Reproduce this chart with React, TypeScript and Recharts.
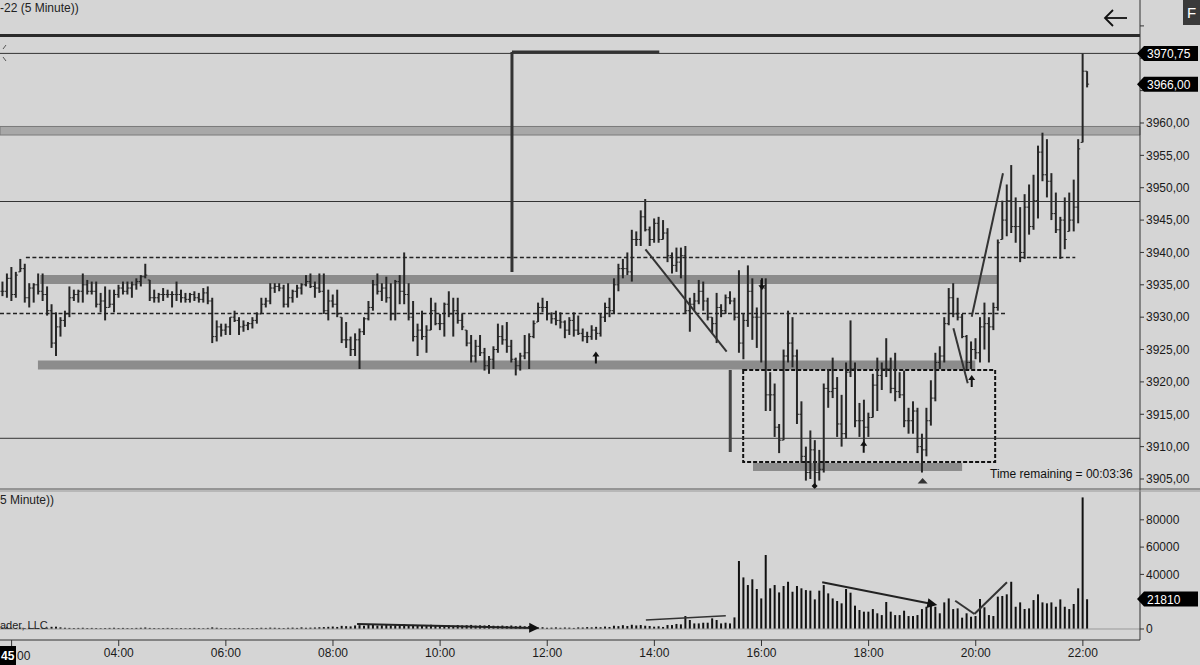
import React from 'react';
import {
    Bar,
    ComposedChart,
    ReferenceArea,
    ReferenceDot,
    ReferenceLine,
    XAxis,
    YAxis,
} from 'recharts';

// 5 minute bars, first bar 01:50, last bar 22:05
const highs = [
    3935.5, 3936.75, 3937.75, 3937, 3939, 3938.25, 3935.25, 3935.25, 3936.75, 3936.75,
    3934.75, 3932, 3930.75, 3930, 3931, 3934.75, 3934.25, 3934.25, 3936.75, 3935.75,
    3935.5, 3935.5, 3933.75, 3934.75, 3934.25, 3934.25, 3935, 3935.5, 3935.5, 3935.5,
    3936, 3936.5, 3938.25, 3935.75, 3934.25, 3933.75, 3934.5, 3934.25, 3934, 3935.5,
    3934.25, 3933.75, 3933.75, 3934, 3933.75, 3934.5, 3934.75, 3933, 3929.5, 3929,
    3929, 3930, 3931, 3930, 3929.5, 3929.25, 3930, 3930.75, 3933, 3933,
    3935.25, 3935.25, 3935.25, 3935, 3935.25, 3934.25, 3935, 3935.25, 3936.5, 3936.75,
    3935.5, 3936.75, 3936.75, 3934.25, 3933.5, 3934.25, 3930, 3929.25, 3927, 3927.5,
    3928.25, 3930, 3932.5, 3935.75, 3936.75, 3935.25, 3936.25, 3935.25, 3935.75, 3936.5,
    3940, 3935.25, 3932.5, 3929, 3931, 3928.75, 3933, 3932.25, 3930.5, 3932.25,
    3934, 3933, 3933, 3930.5, 3928, 3927.25, 3926.5, 3927.25, 3925.25, 3924,
    3925.5, 3929, 3928.75, 3929.25, 3926.5, 3923.75, 3924.5, 3927.25, 3927.5, 3929.5,
    3932.25, 3933, 3932.5, 3930.75, 3931, 3930.75, 3929.5, 3930, 3930.75, 3930.25,
    3928.25, 3927.75, 3928.75, 3928.5, 3930.5, 3932.25, 3933, 3936, 3938.25, 3939,
    3940, 3943.5, 3943.25, 3946.5, 3948.25, 3944, 3945.25, 3945.5, 3945, 3943.75,
    3940, 3940.75, 3940.75, 3941, 3933, 3933.75, 3935.75, 3935.5, 3933, 3930,
    3933.75, 3932, 3933.5, 3934, 3933, 3937.25, 3930.5, 3938, 3936, 3931.5,
    3935.75, 3936, 3921.5, 3919.75, 3913.5, 3925, 3931, 3930, 3925, 3917,
    3910, 3912.5, 3911, 3909.5, 3919.75, 3922, 3923.75, 3920.75, 3918, 3923,
    3929.5, 3923, 3916.75, 3917.25, 3915.25, 3921.25, 3923.75, 3923, 3926.75, 3923.75,
    3924.5, 3921.5, 3921.75, 3916, 3917, 3916, 3912, 3916, 3920.25, 3924.5,
    3925.5, 3930, 3934.5, 3935.25, 3933, 3930.5, 3927.25, 3926.25, 3926.75, 3930,
    3932.25, 3930, 3932.25, 3942, 3948, 3950.5, 3953.5, 3948.5, 3947, 3949,
    3950.5, 3952, 3956.5, 3958.5, 3957.5, 3952.25, 3949.25, 3945.5, 3948.5, 3949.25,
    3951.25, 3957.5, 3970.75, 3968,
];

const lows = [
    3933.25, 3933, 3932.5, 3933, 3937, 3932.25, 3931.5, 3932.25, 3933.5, 3932.5,
    3930.25, 3925.25, 3924, 3927, 3928.5, 3930, 3932.5, 3932.25, 3932.25, 3933.5,
    3933.5, 3931.5, 3930.75, 3929.5, 3931.5, 3930.75, 3933, 3933.5, 3933.5, 3933,
    3934.25, 3934.75, 3936, 3932.5, 3932.25, 3932.25, 3932.5, 3933, 3931.5, 3932.5,
    3932.25, 3932.25, 3932.25, 3932.5, 3932.25, 3932.25, 3932, 3926, 3926.25, 3927,
    3927.25, 3927.25, 3929.25, 3927.25, 3927.75, 3928, 3928.25, 3929, 3930.5, 3931.5,
    3932, 3933.75, 3934, 3931.5, 3931.5, 3932.25, 3933, 3933.5, 3934.75, 3934.5,
    3933, 3933.75, 3930.5, 3929.5, 3931.5, 3930, 3926, 3925.25, 3924, 3924,
    3922, 3927.25, 3929.5, 3931, 3933.5, 3932.5, 3932.25, 3929.5, 3929.5, 3932,
    3932, 3929.5, 3926.25, 3924, 3926.5, 3924.5, 3928, 3928.75, 3928, 3927,
    3930, 3927, 3929, 3928, 3925.5, 3923, 3923, 3924, 3921.75, 3921.25,
    3922, 3924.5, 3925.75, 3924.5, 3923, 3921, 3921.75, 3923.5, 3922, 3926.75,
    3929.25, 3930.75, 3929.5, 3929, 3928.75, 3928.25, 3926.75, 3927.25, 3927, 3927.25,
    3926.25, 3926, 3926.5, 3926.5, 3927, 3929.25, 3930, 3930.5, 3934, 3936,
    3936.5, 3935.5, 3941, 3941, 3943.25, 3941, 3941.5, 3941.5, 3942, 3938.5,
    3936.75, 3937, 3936, 3930.5, 3927.75, 3931, 3932, 3931, 3929.5, 3927.5,
    3926, 3930, 3930.5, 3932, 3929.5, 3924.5, 3923.5, 3928.5, 3926.5, 3925.25,
    3923, 3915.5, 3915.5, 3911.5, 3909, 3911, 3923, 3922.25, 3913.5, 3907.5,
    3904.75, 3905, 3903.75, 3904.75, 3906, 3916, 3917.5, 3911.5, 3910, 3911.25,
    3920.75, 3913, 3911.5, 3910, 3911.5, 3914.5, 3915.5, 3918.75, 3920.75, 3918.25,
    3917, 3917.5, 3913, 3912, 3912, 3909, 3906, 3908.5, 3913.25, 3917,
    3922, 3923, 3928.75, 3930, 3929.5, 3926.75, 3922, 3922, 3923.5, 3923,
    3925, 3923, 3928, 3931, 3942, 3942.5, 3943, 3941.5, 3938.5, 3939,
    3942.75, 3943.5, 3945.25, 3951, 3948.5, 3945, 3943, 3939, 3940.5, 3943.25,
    3943.25, 3944.5, 3957, 3965.5,
];

const closes = [
    3934, 3936, 3933.5, 3936.5, 3937.5, 3933, 3934.5, 3935, 3934, 3933.5,
    3931, 3926, 3928.5, 3929.5, 3930.5, 3933, 3933.5, 3934, 3935, 3934,
    3934, 3932, 3932.5, 3931.5, 3932, 3933.5, 3934.5, 3934, 3934.5, 3935,
    3935.5, 3936.25, 3936.5, 3933, 3933, 3933.5, 3933.5, 3933.5, 3933.5, 3933.5,
    3933, 3932.75, 3933.5, 3933, 3932.75, 3933.75, 3932.5, 3927, 3928.5, 3928,
    3928.5, 3930, 3929.5, 3928.5, 3928.75, 3929, 3929.5, 3930.5, 3932, 3932.5,
    3934.5, 3934.75, 3934.5, 3932, 3933, 3934, 3934.5, 3935, 3935.5, 3934.75,
    3934.5, 3934, 3931, 3932.5, 3932, 3930.5, 3926.5, 3926.5, 3925, 3926.5,
    3927.75, 3929.75, 3931.5, 3935, 3934, 3934.5, 3933, 3930.5, 3935.5, 3934,
    3933.5, 3930, 3927, 3928, 3927, 3928, 3931, 3929, 3929, 3932,
    3930.5, 3931, 3929.5, 3928.5, 3926, 3924, 3925.5, 3924.5, 3922.5, 3923.5,
    3925, 3927, 3926.5, 3925.5, 3923.5, 3922.5, 3924, 3924.5, 3927, 3929,
    3931.5, 3931.5, 3930.5, 3929.75, 3929.5, 3929.25, 3928, 3929.5, 3928, 3927.5,
    3927, 3927, 3928, 3927.5, 3930, 3931.5, 3931, 3935, 3937.5, 3937.5,
    3937, 3942, 3942, 3945.5, 3943.5, 3942, 3944.5, 3942, 3943, 3939.5,
    3938, 3938.5, 3939.5, 3931, 3932, 3932.5, 3934, 3932.5, 3930, 3929,
    3931.5, 3931, 3933, 3932.5, 3930, 3926, 3929.5, 3934, 3930, 3930,
    3934.5, 3918, 3918, 3913, 3911, 3924, 3926, 3924, 3915, 3908.5,
    3906, 3909.5, 3906, 3906.5, 3919, 3918.5, 3919, 3913.5, 3912, 3921.5,
    3922, 3914, 3914, 3913, 3914.5, 3919.5, 3921, 3922, 3922, 3919,
    3918.5, 3918, 3914, 3914, 3915.5, 3910, 3909.5, 3914, 3917.5, 3923,
    3924, 3929, 3933, 3930.5, 3930, 3927, 3923, 3925, 3924.5, 3928.5,
    3929, 3928.5, 3931.5, 3941.5, 3945, 3948, 3944, 3944, 3940, 3947,
    3944, 3948, 3955.5, 3952, 3951, 3946, 3943.5, 3945, 3942, 3945,
    3947, 3956, 3968, 3966,
];

const volumes = [
    1100, 1300, 900, 800, 1000, 700, 900, 800, 700, 800,
    900, 1600, 1700, 1200, 900, 800, 700, 800, 900, 700,
    800, 700, 600, 700, 800, 900, 700, 800, 700, 600,
    800, 900, 1100, 800, 700, 600, 700, 800, 700, 600,
    700, 600, 700, 800, 700, 600, 800, 1200, 900, 700,
    700, 600, 700, 800, 700, 600, 700, 800, 900, 800,
    1000, 900, 800, 700, 900, 1000, 800, 1200, 900, 1000,
    1100, 1300, 1400, 1600, 1800, 1500, 2300, 2100, 1900, 2600,
    2800, 2400, 2900, 3100, 2500, 2700, 3000, 2600, 2800, 3200,
    3400, 2800, 3000, 2600, 2900, 2700, 3100, 2500, 2800, 2600,
    2700, 2400, 2900, 2600, 2800, 3000, 2500, 2700, 2600, 2900,
    2400, 2300, 2500, 2200, 2600, 2100, 2400, 2000, 2200, 1500,
    1100, 1300, 900, 1000, 1200, 900, 1100, 1000, 800, 1200,
    1100, 1400, 1200, 1600, 1300, 1800, 1500, 2400, 2100, 2800,
    2200, 3100, 2600, 2900, 2400, 2200, 1700, 2000, 1500, 2900,
    2900, 3700, 3400, 9500, 6600, 4100, 4100, 4600, 4600, 7800,
    6600, 4100, 4600, 4100, 8500, 49800, 37800, 32200, 36400, 29300,
    22400, 54200, 29800, 32200, 26800, 31500, 34600, 27300, 31500, 29800,
    28500, 28100, 21700, 28100, 32200, 26100, 22400, 20500, 18800, 29300,
    26600, 17100, 13900, 12700, 12700, 14600, 11500, 10200, 19800, 12700,
    10200, 10200, 13400, 9500, 9500, 10200, 14600, 16300, 17600, 16300,
    11500, 19500, 22400, 14600, 15100, 8300, 11500, 9000, 9500, 22000,
    15900, 10200, 9500, 23700, 24200, 25400, 34600, 16300, 19500, 14600,
    15100, 21200, 25400, 19500, 18800, 19500, 16300, 21700, 16300, 14600,
    18300, 29800, 96400, 21810,
];

const timeTicks = [2, 26, 50, 74, 98, 122, 146, 170, 194, 218, 242];
const timeLabels = ['02:00', '04:00', '06:00', '08:00', '10:00', '12:00', '14:00', '16:00', '18:00', '20:00', '22:00'];
const priceTicks = [3905, 3910, 3915, 3920, 3925, 3930, 3935, 3940, 3945, 3950, 3955, 3960, 3965, 3970, 3975];
const volumeTicks = [0, 20000, 40000, 60000, 80000];
// tick labels hidden behind the last-value tags or the top edge
const hiddenPriceLabels = [3965, 3970, 3975];
const hiddenVolumeLabels = [20000];

const X_DOMAIN: [number, number] = [-0.6, 254.8];
const PRICE_DOMAIN: [number, number] = [3903.3, 3979];
const VOLUME_DOMAIN: [number, number] = [-8059, 101832];
const BG = '#d5d5d5';
const INK = '#1a1a1a';
const FONT = '"Liberation Sans", Arial, sans-serif';

const bars = highs.map((high, i) => {
    const low = lows[i];
    const prev = i === 0 ? closes[0] : closes[i - 1];
    const open = Math.min(high, Math.max(low, prev));
    return { i, high, low, open, close: closes[i], range: [low, high], volume: volumes[i] };
});

const priceY = (p: number) => ((PRICE_DOMAIN[1] - p) * 490) / (PRICE_DOMAIN[1] - PRICE_DOMAIN[0]);

function OhlcBar(props: any) {
    const { x, y, width, height, payload } = props;
    if (x == null || y == null) return null;
    const cx = x + width / 2;
    const span = payload.high - payload.low;
    const k = span > 0 ? height / span : 0;
    const yOpen = y + (payload.high - payload.open) * k;
    const yClose = y + (payload.high - payload.close) * k;
    return (
        <g stroke="#262626">
            <line x1={cx} x2={cx} y1={y} y2={y + Math.max(height, 1)} strokeWidth={2} />
            <line x1={cx - 2} x2={cx} y1={yOpen} y2={yOpen} strokeWidth={1} />
            <line x1={cx} x2={cx + 2} y1={yClose} y2={yClose} strokeWidth={1} />
        </g>
    );
}

const UpArrow = (p: any) => (
    <path
        d={`M${p.cx},${p.cy - 6} L${p.cx - 3.5},${p.cy - 1} L${p.cx - 1},${p.cy - 1} L${p.cx - 1},${p.cy + 6} L${p.cx + 1},${p.cy + 6} L${p.cx + 1},${p.cy - 1} L${p.cx + 3.5},${p.cy - 1} Z`}
        fill="#111"
    />
);

const DownArrow = (p: any) => (
    <path
        d={`M${p.cx},${p.cy + 6} L${p.cx - 3.5},${p.cy + 1} L${p.cx - 1},${p.cy + 1} L${p.cx - 1},${p.cy - 6} L${p.cx + 1},${p.cy - 6} L${p.cx + 1},${p.cy + 1} L${p.cx + 3.5},${p.cy + 1} Z`}
        fill="#111"
    />
);

const Triangle = (p: any) => (
    <path d={`M${p.cx},${p.cy - 3} L${p.cx + 5},${p.cy + 2.5} L${p.cx - 5},${p.cy + 2.5} Z`} fill="#333" />
);

const Diamond = (p: any) => (
    <path d={`M${p.cx},${p.cy - 3} L${p.cx + 3},${p.cy} L${p.cx},${p.cy + 3} L${p.cx - 3},${p.cy} Z`} fill="#111" />
);

const arrowHead = (deg: number) => (p: any) => (
    <path
        d={`M${p.cx + 4},${p.cy} L${p.cx - 6},${p.cy - 5} L${p.cx - 6},${p.cy + 5} Z`}
        fill="#111"
        transform={`rotate(${deg} ${p.cx} ${p.cy})`}
    />
);

function Tag({ y, text }: { y: number; text: string }) {
    return (
        <g>
            <path d={`M1137,${y} L1144,${y - 7.5} L1198,${y - 7.5} L1198,${y + 7.5} L1144,${y + 7.5} Z`} fill="#000" />
            <text x={1147} y={y + 4.5} fill="#fff" fontSize={12} fontFamily={FONT}>
                {text}
            </text>
        </g>
    );
}

// the 02:00 label sits under the cursor time box, only its tail shows
const timeLabel = (v: number) => (v === 2 ? '' : timeLabels[timeTicks.indexOf(v)] ?? '');
const priceLabel = (v: number) => (hiddenPriceLabels.includes(v) ? '' : v.toFixed(2).replace('.', ','));
const volumeLabel = (v: number) => (hiddenVolumeLabels.includes(v) ? '' : String(v));

export default function App() {
    const seg = (x1: number, y1: number, x2: number, y2: number) => [
        { x: x1, y: y1 },
        { x: x2, y: y2 },
    ];
    return (
        <div
            style={{
                position: 'absolute',
                left: 0,
                top: 0,
                width: 1200,
                height: 665,
                background: BG,
                overflow: 'hidden',
                fontFamily: FONT,
            }}
        >
            <div style={{ position: 'absolute', left: 0, top: 0 }}>
                <ComposedChart width={1200} height={490} data={bars} margin={{ top: 0, right: 0, bottom: 0, left: 0 }}>
                    <XAxis hide type="number" dataKey="i" domain={X_DOMAIN} allowDataOverflow />
                    <YAxis
                        orientation="right"
                        width={60}
                        domain={PRICE_DOMAIN}
                        ticks={priceTicks}
                        interval={0}
                        allowDataOverflow
                        tickFormatter={priceLabel}
                        tickSize={4}
                        tick={{ fill: INK, fontSize: 12, fontFamily: FONT }}
                        tickLine={{ stroke: '#333' }}
                        axisLine={{ stroke: '#333' }}
                    />
                    <ReferenceArea y1={3958.14} y2={3959.46} fill="#a8a8a8" fillOpacity={1} stroke="#7a7a7a" strokeWidth={1} />
                    <ReferenceArea x1={8.4} x2={223} y1={3935.13} y2={3936.52} fill="#8c8c8c" fillOpacity={1} stroke="none" />
                    <ReferenceArea x1={7.9} x2={217.9} y1={3921.92} y2={3923.31} fill="#8c8c8c" fillOpacity={1} stroke="none" />
                    <ReferenceArea x1={168.1} x2={214.95} y1={3906.24} y2={3907.47} fill="#8c8c8c" fillOpacity={1} stroke="none" />
                    <ReferenceLine y={3973.52} stroke="#2a2a2a" strokeWidth={3} />
                    <ReferenceLine y={3970.75} stroke="#333" strokeWidth={1} />
                    <ReferenceLine y={3947.87} stroke="#333" strokeWidth={1} />
                    <ReferenceLine y={3911.29} stroke="#333" strokeWidth={1} />
                    <ReferenceLine segment={seg(5.2, 3939.22, 240.3, 3939.22)} stroke="#222" strokeWidth={1.5} strokeDasharray="4 2.5" />
                    <ReferenceLine segment={seg(-0.6, 3930.57, 225, 3930.57)} stroke="#222" strokeWidth={1.5} strokeDasharray="4 2.5" />
                    <Bar dataKey="range" shape={OhlcBar} barSize={2} isAnimationActive={false} />
                    <ReferenceArea
                        x1={165.9}
                        x2={222.35}
                        y1={3907.63}
                        y2={3921.84}
                        fill="none"
                        stroke="#111"
                        strokeWidth={2}
                        strokeDasharray="4 2"
                    />
                    <ReferenceLine segment={seg(114.1, 3936.98, 114.1, 3970.97)} stroke="#333" strokeWidth={3} />
                    <ReferenceLine segment={seg(114.1, 3970.97, 147.1, 3970.97)} stroke="#333" strokeWidth={3} />
                    <ReferenceLine segment={seg(163, 3909.17, 163, 3921.84)} stroke="#444" strokeWidth={3} />
                    <ReferenceLine segment={seg(144, 3940.49, 162.2, 3924.67)} stroke="#333" strokeWidth={2} />
                    <ReferenceLine segment={seg(217.1, 3930.07, 224.1, 3952.23)} stroke="#333" strokeWidth={2} />
                    <ReferenceLine segment={seg(213, 3928.28, 216.2, 3919.79)} stroke="#333" strokeWidth={2} />
                    <ReferenceDot x={132.9} y={3923.77} r={0} shape={UpArrow} />
                    <ReferenceDot x={192.9} y={3910.0} r={0} shape={UpArrow} />
                    <ReferenceDot x={217.1} y={3920.14} r={0} shape={UpArrow} />
                    <ReferenceDot x={170.1} y={3935.1} r={0} shape={DownArrow} />
                    <ReferenceDot x={206.1} y={3904.7} r={0} shape={Triangle} />
                    <ReferenceDot x={181.9} y={3903.9} r={0} shape={Diamond} />
                </ComposedChart>
            </div>
            <div style={{ position: 'absolute', left: 0, top: 490 }}>
                <ComposedChart width={1200} height={175} data={bars} margin={{ top: 0, right: 0, bottom: 0, left: 0 }}>
                    <XAxis
                        type="number"
                        dataKey="i"
                        domain={X_DOMAIN}
                        allowDataOverflow
                        ticks={timeTicks}
                        interval={0}
                        tickFormatter={timeLabel}
                        height={25}
                        tickSize={6}
                        tick={{ fill: INK, fontSize: 12, fontFamily: FONT }}
                        tickLine={{ stroke: '#333' }}
                        axisLine={{ stroke: '#333' }}
                    />
                    <YAxis
                        orientation="right"
                        width={60}
                        domain={VOLUME_DOMAIN}
                        ticks={volumeTicks}
                        interval={0}
                        allowDataOverflow
                        tickFormatter={volumeLabel}
                        tickSize={4}
                        tick={{ fill: INK, fontSize: 12, fontFamily: FONT }}
                        tickLine={{ stroke: '#333' }}
                        axisLine={{ stroke: '#333' }}
                    />
                    <ReferenceLine y={0} stroke="#9a9a9a" strokeWidth={1} />
                    <Bar dataKey="volume" fill="#111" barSize={2} isAnimationActive={false} />
                    <ReferenceLine segment={seg(79.4, 3663, 119.3, 733)} stroke="#222" strokeWidth={2} />
                    <ReferenceDot x={119.3} y={733} r={0} shape={arrowHead(1.3)} />
                    <ReferenceLine segment={seg(144.1, 6593, 162, 9744)} stroke="#333" strokeWidth={1.5} />
                    <ReferenceLine segment={seg(183.6, 34212, 208.5, 18095)} stroke="#222" strokeWidth={2} />
                    <ReferenceDot x={208.5} y={18095} r={0} shape={arrowHead(11.2)} />
                    <ReferenceLine segment={seg(213.4, 20733, 217.7, 10989)} stroke="#333" strokeWidth={2} />
                    <ReferenceLine segment={seg(217.7, 10989, 225, 34212)} stroke="#333" strokeWidth={2} />
                </ComposedChart>
            </div>
            <svg
                width={1200}
                height={665}
                style={{ position: 'absolute', left: 0, top: 0, pointerEvents: 'none' }}
                fontFamily={FONT}
            >
                <text x={0} y={12} fontSize={12} fill="#222">
                    -22 (5 Minute))
                </text>
                <line x1={3} y1={49} x2={6} y2={45} stroke="#555" strokeWidth={1} />
                <line x1={3} y1={57} x2={6} y2={61} stroke="#555" strokeWidth={1} />
                <text x={990} y={478} fontSize={12} fill="#111">
                    Time remaining = 00:03:36
                </text>
                <text x={0} y={504} fontSize={12} fill="#222">
                    5 Minute))
                </text>
                <text x={0} y={629} fontSize={11} fill="#222">
                    ader, LLC
                </text>
                <line x1={0} x2={1200} y1={489} y2={489} stroke="#555" strokeWidth={1} />
                <line x1={0} x2={1200} y1={491} y2={491} stroke="#999" strokeWidth={1} />
                <g stroke="#111" strokeWidth={1.8} fill="none">
                    <line x1={1105} y1={18} x2={1127} y2={18} />
                    <polyline points="1113,10 1105,18 1113,26" />
                </g>
                <rect x={1183} y={0} width={17} height={25} fill="#3a3a3a" />
                <text x={1191.5} y={18} fontSize={15} fill="#fff" textAnchor="middle">
                    F
                </text>
                <Tag y={priceY(3970.75)} text="3970,75" />
                <Tag y={priceY(3966)} text="3966,00" />
                <Tag y={599} text="21810" />
                <rect x={0} y={646} width={16} height={19} fill="#000" />
                <text x={1} y={660} fontSize={12} fill="#fff" fontWeight="bold">
                    45
                </text>
                <text x={17} y={660} fontSize={12} fill={INK}>
                    00
                </text>
            </svg>
        </div>
    );
}
